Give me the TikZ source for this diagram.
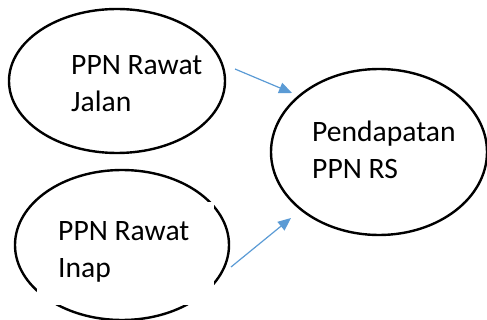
\documentclass[tikz,border=0pt]{standalone}
\usepackage{fontspec}
\setmainfont{Carlito}
\usetikzlibrary{arrows.meta,shapes.geometric}
\definecolor{flowblue}{RGB}{91,155,213}
\tikzset{
  oval/.style={draw=black, line width=2.4pt, ellipse, inner sep=0pt},
  caption/.style={font=\fontsize{29.6}{37}\selectfont, align=left, inner sep=0pt, anchor=base west},
  flow/.style={draw=flowblue, line width=1.2pt, -{Triangle[length=13pt, width=11pt]}},
}
\begin{document}
\begin{tikzpicture}[x=1pt, y=-1pt]
  \useasboundingbox (0,0) rectangle (487,320);
  % source and target ovals
  \node[oval, minimum width=216pt, minimum height=144pt] (jalan) at (117,81) {};
  \node[oval, minimum width=214pt, minimum height=150pt] (inap) at (122,245) {};
  \node[oval, minimum width=216pt, minimum height=166pt] (rs) at (379,152) {};
  % white text box laid over the lower oval
  \fill[white] (37,202) rectangle (214,305);
  % captions (anchored on the baseline of their last line)
  \node[caption] (tjalan) at (71,111.5) {PPN Rawat\\Jalan};
  \node[caption] (tinap) at (58,278) {PPN Rawat\\Inap};
  \node[caption] (trs) at (312,179) {Pendapatan\\PPN RS};
  % arrows towards the total
  \coordinate (a1) at (235,69);
  \coordinate (b1) at (292,93);
  \coordinate (a2) at (231,267);
  \coordinate (b2) at (291,218);
  \draw[flow] (a1) -- (b1);
  \draw[flow] (a2) -- (b2);
\end{tikzpicture}
\end{document}
